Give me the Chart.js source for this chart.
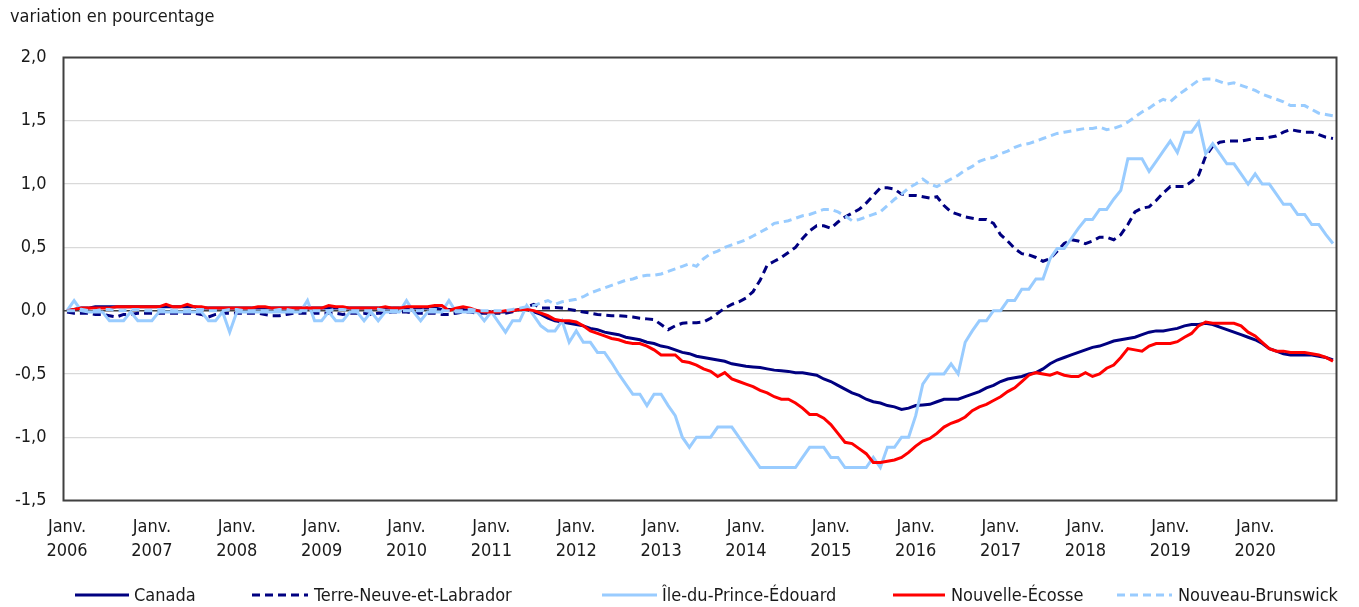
<!DOCTYPE html>
<html>
<head>
<meta charset="utf-8">
<script src="https://cdn.jsdelivr.net/npm/chart.js@4.4.1/dist/chart.umd.min.js"></script>
<style>
  html, body { margin: 0; padding: 0; background: #ffffff; }
  #wrap { width: 1359px; height: 607px; position: relative; }
</style>
</head>
<body>
<div id="wrap"><canvas id="c" width="1359" height="607"></canvas></div>
<script>
// ---------- DATA ----------
const years = [2006, 2007, 2008, 2009, 2010, 2011, 2012, 2013, 2014, 2015, 2016, 2017, 2018, 2019, 2020];
const monthNames = ['Janv.', 'Févr.', 'Mars', 'Avr.', 'Mai', 'Juin', 'Juil.', 'Août', 'Sept.', 'Oct.', 'Nov.', 'Déc.'];
const seriesNames = ['Canada', 'Terre-Neuve-et-Labrador', 'Île-du-Prince-Édouard', 'Nouvelle-Écosse', 'Nouveau-Brunswick'];
const yTicks = [-1.5, -1.0, -0.5, 0.0, 0.5, 1.0, 1.5, 2.0];

const canada = [
  0.00, 0.01, 0.02, 0.02, 0.03, 0.03, 0.03, 0.03, 0.03, 0.03, 0.03, 0.03,
  0.03, 0.03, 0.03, 0.03, 0.03, 0.03, 0.03, 0.02, 0.02, 0.02, 0.02, 0.02,
  0.02, 0.02, 0.02, 0.02, 0.02, 0.02, 0.02, 0.02, 0.02, 0.02, 0.02, 0.02,
  0.02, 0.02, 0.02, 0.02, 0.02, 0.02, 0.02, 0.02, 0.02, 0.02, 0.02, 0.02,
  0.02, 0.02, 0.02, 0.02, 0.02, 0.01, 0.01, 0.01, 0.01, 0.00, 0.00, -0.01,
  -0.01, -0.01, -0.01, 0.00, 0.01, 0.01, -0.01, -0.03, -0.06, -0.08, -0.09, -0.10,
  -0.11, -0.12, -0.14, -0.15, -0.17, -0.18, -0.19, -0.21, -0.22, -0.23, -0.25, -0.26,
  -0.28, -0.29, -0.31, -0.33, -0.34, -0.36, -0.37, -0.38, -0.39, -0.40, -0.42, -0.43,
  -0.44, -0.445, -0.45, -0.46, -0.47, -0.475, -0.48, -0.49, -0.49, -0.50, -0.51, -0.54,
  -0.56, -0.59, -0.62, -0.65, -0.67, -0.70, -0.72, -0.73, -0.75, -0.76, -0.78, -0.77,
  -0.75, -0.745, -0.74, -0.72, -0.70, -0.70, -0.70, -0.68, -0.66, -0.64, -0.61, -0.59,
  -0.56, -0.54, -0.53, -0.52, -0.50, -0.49, -0.46, -0.42, -0.39, -0.37, -0.35, -0.33,
  -0.31, -0.29, -0.28, -0.26, -0.24, -0.23, -0.22, -0.21, -0.19, -0.17, -0.16, -0.16,
  -0.15, -0.14, -0.12, -0.11, -0.11, -0.10, -0.11, -0.13, -0.15, -0.17, -0.19, -0.21,
  -0.23, -0.26, -0.30, -0.32, -0.34, -0.35, -0.35, -0.35, -0.35, -0.36, -0.37, -0.39
];

const terreNeuve = [
  -0.01, -0.02, -0.02, -0.02, -0.03, -0.03, -0.04, -0.05, -0.03, -0.03, -0.02, -0.02,
  -0.02, -0.02, -0.02, -0.02, -0.02, -0.02, -0.02, -0.03, -0.05, -0.03, -0.02, -0.02,
  -0.02, -0.02, -0.02, -0.02, -0.03, -0.04, -0.04, -0.03, -0.02, -0.02, -0.02, -0.02,
  -0.02, -0.02, -0.02, -0.03, -0.02, -0.02, -0.02, -0.03, -0.02, -0.02, -0.01, -0.01,
  -0.01, -0.02, -0.02, -0.02, -0.02, -0.03, -0.03, -0.02, -0.01, -0.01, -0.02, -0.02,
  -0.02, -0.02, -0.02, -0.01, 0.01, 0.03, 0.05, 0.02, 0.02, 0.025, 0.02, 0.01,
  0.00, -0.01, -0.02, -0.03, -0.035, -0.04, -0.04, -0.045, -0.05, -0.06, -0.065, -0.07,
  -0.11, -0.15, -0.12, -0.10, -0.095, -0.095, -0.09, -0.06, -0.02, 0.02, 0.05, 0.07,
  0.10, 0.15, 0.24, 0.36, 0.39, 0.42, 0.46, 0.50, 0.57, 0.63, 0.67, 0.67,
  0.65, 0.70, 0.74, 0.77, 0.80, 0.85, 0.91, 0.97, 0.97, 0.96, 0.92, 0.91,
  0.91, 0.90, 0.89, 0.90, 0.83, 0.78, 0.76, 0.74, 0.73, 0.72, 0.72, 0.69,
  0.60, 0.55, 0.49, 0.45, 0.44, 0.42, 0.39, 0.41, 0.47, 0.53, 0.56, 0.55,
  0.53, 0.55, 0.58, 0.58, 0.56, 0.60, 0.68, 0.78, 0.81, 0.82, 0.87, 0.93,
  0.98, 0.98, 0.98, 1.02, 1.07, 1.22, 1.30, 1.33, 1.34, 1.34, 1.34, 1.35,
  1.36, 1.36, 1.37, 1.38, 1.41, 1.43, 1.42, 1.41, 1.41, 1.39, 1.37, 1.36
];

const ilePE = [
  0.00, 0.08, 0.00, -0.01, -0.01, -0.01, -0.08, -0.08, -0.08, -0.01, -0.08, -0.08,
  -0.08, -0.01, -0.01, -0.01, -0.01, -0.01, -0.01, -0.01, -0.08, -0.08, -0.01, -0.17,
  -0.01, -0.01, -0.01, -0.01, -0.01, -0.01, -0.01, -0.01, -0.01, -0.01, 0.08, -0.08,
  -0.08, -0.01, -0.08, -0.08, -0.01, -0.01, -0.08, -0.01, -0.08, -0.01, -0.01, -0.01,
  0.08, -0.01, -0.08, -0.01, -0.01, -0.01, 0.08, -0.01, -0.01, -0.01, -0.01, -0.08,
  -0.01, -0.09, -0.17, -0.08, -0.08, 0.04, -0.04, -0.12, -0.16, -0.16, -0.08, -0.25,
  -0.16, -0.25, -0.25, -0.33, -0.33, -0.41, -0.50, -0.58, -0.66, -0.66, -0.75, -0.66,
  -0.66, -0.75, -0.83, -1.00, -1.08, -1.00, -1.00, -1.00, -0.92, -0.92, -0.92, -1.00,
  -1.08, -1.16, -1.24, -1.24, -1.24, -1.24, -1.24, -1.24, -1.16, -1.08, -1.08, -1.08,
  -1.16, -1.16, -1.24, -1.24, -1.24, -1.24, -1.16, -1.24, -1.08, -1.08, -1.00, -1.00,
  -0.83, -0.58, -0.50, -0.50, -0.50, -0.42, -0.50, -0.25, -0.16, -0.08, -0.08, 0.00,
  0.00, 0.08, 0.08, 0.17, 0.17, 0.25, 0.25, 0.41, 0.49, 0.49, 0.57, 0.65,
  0.72, 0.72, 0.80, 0.80, 0.88, 0.95, 1.20, 1.20, 1.20, 1.10, 1.18, 1.26,
  1.34, 1.25, 1.41, 1.41, 1.49, 1.24, 1.32, 1.24, 1.16, 1.16, 1.08, 1.00,
  1.08, 1.00, 1.00, 0.92, 0.84, 0.84, 0.76, 0.76, 0.68, 0.68, 0.60, 0.53
];

const nouvelleEcosse = [
  0.00, 0.01, 0.02, 0.02, 0.02, 0.02, 0.02, 0.03, 0.03, 0.03, 0.03, 0.03,
  0.03, 0.03, 0.05, 0.03, 0.03, 0.05, 0.03, 0.03, 0.02, 0.02, 0.02, 0.02,
  0.02, 0.02, 0.02, 0.03, 0.03, 0.02, 0.02, 0.02, 0.02, 0.02, 0.02, 0.02,
  0.02, 0.04, 0.03, 0.03, 0.02, 0.02, 0.02, 0.02, 0.02, 0.03, 0.02, 0.02,
  0.03, 0.03, 0.03, 0.03, 0.04, 0.04, 0.00, 0.02, 0.03, 0.02, 0.00, -0.01,
  -0.01, -0.01, 0.00, 0.00, 0.01, 0.01, 0.00, -0.02, -0.04, -0.07, -0.08, -0.08,
  -0.09, -0.12, -0.16, -0.18, -0.20, -0.22, -0.23, -0.25, -0.26, -0.26, -0.28, -0.31,
  -0.35, -0.35, -0.35, -0.40, -0.41, -0.43, -0.46, -0.48, -0.52, -0.49, -0.54, -0.56,
  -0.58, -0.60, -0.63, -0.65, -0.68, -0.70, -0.70, -0.73, -0.77, -0.82, -0.82, -0.85,
  -0.90, -0.97, -1.04, -1.05, -1.09, -1.13, -1.20, -1.20, -1.19, -1.18, -1.16, -1.12,
  -1.07, -1.03, -1.01, -0.97, -0.92, -0.89, -0.87, -0.84, -0.79, -0.76, -0.74, -0.71,
  -0.68, -0.64, -0.61, -0.56, -0.51, -0.49, -0.50, -0.51, -0.49, -0.51, -0.52, -0.52,
  -0.49, -0.52, -0.50, -0.455, -0.43, -0.37, -0.30, -0.31, -0.32, -0.28, -0.26, -0.26,
  -0.26, -0.245, -0.21, -0.18, -0.12, -0.09, -0.10, -0.10, -0.10, -0.10, -0.12, -0.17,
  -0.20, -0.25, -0.30, -0.32, -0.32, -0.33, -0.33, -0.33, -0.34, -0.35, -0.37, -0.40
];

const nouveauBrunswick = [
  0.00, 0.00, 0.01, 0.00, 0.00, 0.01, 0.01, 0.00, 0.00, 0.01, 0.01, 0.00,
  0.00, 0.01, 0.01, 0.00, 0.00, 0.00, 0.01, 0.01, 0.00, 0.00, 0.00, 0.01,
  0.01, 0.00, 0.00, 0.00, 0.00, 0.00, 0.01, 0.01, 0.00, 0.00, 0.00, 0.00,
  0.00, 0.00, 0.01, 0.01, 0.00, 0.00, 0.00, 0.00, 0.01, 0.00, 0.00, 0.00,
  0.00, 0.00, 0.00, 0.01, 0.01, 0.00, 0.00, 0.00, 0.00, 0.01, 0.00, 0.00,
  0.00, 0.00, 0.00, 0.01, 0.02, 0.03, 0.04, 0.06, 0.08, 0.05, 0.07, 0.08,
  0.09, 0.11, 0.14, 0.16, 0.18, 0.20, 0.22, 0.24, 0.25, 0.27, 0.28, 0.28,
  0.29, 0.31, 0.33, 0.35, 0.37, 0.35, 0.41, 0.45, 0.47, 0.50, 0.52, 0.54,
  0.56, 0.59, 0.62, 0.65, 0.69, 0.70, 0.71, 0.73, 0.75, 0.76, 0.78, 0.80,
  0.80, 0.78, 0.75, 0.71, 0.72, 0.74, 0.76, 0.78, 0.83, 0.88, 0.92, 0.97,
  1.00, 1.04, 1.00, 0.98, 1.01, 1.04, 1.07, 1.11, 1.14, 1.18, 1.20, 1.21,
  1.24, 1.26, 1.29, 1.31, 1.32, 1.34, 1.36, 1.38, 1.40, 1.41, 1.42, 1.43,
  1.44, 1.44, 1.45, 1.43, 1.44, 1.46, 1.49, 1.53, 1.57, 1.60, 1.64, 1.67,
  1.65, 1.70, 1.74, 1.78, 1.82, 1.83, 1.83, 1.81, 1.79, 1.80, 1.78, 1.76,
  1.74, 1.71, 1.69, 1.67, 1.65, 1.62, 1.62, 1.62, 1.59, 1.56, 1.55, 1.54
];

// ---------- BUILD ----------
const labels = [];
years.forEach(y => monthNames.forEach(m => labels.push(m + ' ' + y)));

const FONT = "'DejaVu Sans Condensed', 'DejaVu Sans', sans-serif";
const FSIZE = 18;
const TEXT = '#1a1a1a';
const NAVY = '#000080';
const LIGHT = '#99CCFF';
const RED = '#FF0000';
const DASH = [8, 5];

const frame = {
  id: 'frame',
  beforeDatasetsDraw(chart) {
    const {ctx, chartArea: a} = chart;
    ctx.save();
    ctx.strokeStyle = '#404040';
    ctx.lineWidth = 2;
    ctx.strokeRect(a.left, a.top, a.right - a.left, a.bottom - a.top);
    ctx.restore();
  }
};

const bottomLegend = {
  id: 'bottomLegend',
  afterDraw(chart, args, opts) {
    const ctx = chart.ctx;
    ctx.save();
    ctx.font = opts.font;
    ctx.textBaseline = 'middle';
    ctx.textAlign = 'left';
    chart.data.datasets.forEach((ds, i) => {
      const p = opts.items[i];
      ctx.beginPath();
      ctx.strokeStyle = ds.borderColor;
      ctx.lineWidth = 3;
      ctx.lineCap = 'butt';
      ctx.setLineDash(ds.borderDash || []);
      ctx.moveTo(p.x0, opts.y);
      ctx.lineTo(p.x1, opts.y);
      ctx.stroke();
      ctx.setLineDash([]);
      ctx.fillStyle = TEXT;
      ctx.fillText(ds.label, p.tx, opts.y + 1);
    });
    ctx.restore();
  }
};

const mk = (label, data, color, dash, order) => ({
  label, data, borderColor: color, backgroundColor: color, borderWidth: 3,
  borderDash: dash, pointRadius: 0, pointHoverRadius: 0, tension: 0, fill: false, order
});

new Chart(document.getElementById('c'), {
  type: 'line',
  data: {
    labels,
    datasets: [
      mk(seriesNames[0], canada, NAVY, [], 5),
      mk(seriesNames[1], terreNeuve, NAVY, DASH, 4),
      mk(seriesNames[2], ilePE, LIGHT, [], 3),
      mk(seriesNames[3], nouvelleEcosse, RED, [], 2),
      mk(seriesNames[4], nouveauBrunswick, LIGHT, DASH, 1)
    ]
  },
  options: {
    responsive: false,
    devicePixelRatio: 1,
    animation: false,
    events: [],
    layout: { padding: { left: 10, right: 22.5, top: 0, bottom: 0 } },
    plugins: {
      legend: { display: false },
      tooltip: { enabled: false },
      title: {
        display: true,
        text: 'variation en pourcentage',
        align: 'start',
        color: TEXT,
        font: { family: FONT, size: FSIZE, weight: 'normal', lineHeight: 1.2 },
        padding: { top: 6.2, bottom: 29.7 }
      },
      bottomLegend: {
        y: 595,
        font: FSIZE + "px " + FONT,
        items: [
          { x0: 75, x1: 129, tx: 134 },
          { x0: 252, x1: 308, tx: 314 },
          { x0: 602, x1: 657, tx: 662 },
          { x0: 893, x1: 945, tx: 951 },
          { x0: 1117, x1: 1172, tx: 1178 }
        ]
      }
    },
    scales: {
      x: {
        type: 'category',
        offset: true,
        grid: { display: false, drawTicks: false },
        border: { display: false },
        afterFit: s => { s.height = 106.5; },
        ticks: {
          autoSkip: false,
          maxRotation: 0,
          minRotation: 0,
          padding: 14.5,
          color: TEXT,
          font: { family: FONT, size: FSIZE, lineHeight: 1.36 },
          callback: function(value, index) {
            return index % 12 === 0 ? this.getLabelForValue(value).split(' ') : '';
          }
        }
      },
      y: {
        min: yTicks[0],
        max: yTicks[yTicks.length - 1],
        afterFit: s => { s.width = 53.5; },
        afterBuildTicks: s => { s.ticks = yTicks.map(v => ({ value: v })); },
        border: { display: false },
        grid: {
          drawTicks: false,
          color: c => (c.tick && c.tick.value === 0) ? '#404040' : '#d9d9d9',
          lineWidth: c => (c.tick && c.tick.value === 0) ? 1.5 : 1.2
        },
        ticks: {
          padding: 17,
          color: TEXT,
          font: { family: FONT, size: FSIZE },
          callback: v => v.toFixed(1).replace('.', ',')
        }
      }
    }
  },
  plugins: [frame, bottomLegend]
});
</script>
</body>
</html>
